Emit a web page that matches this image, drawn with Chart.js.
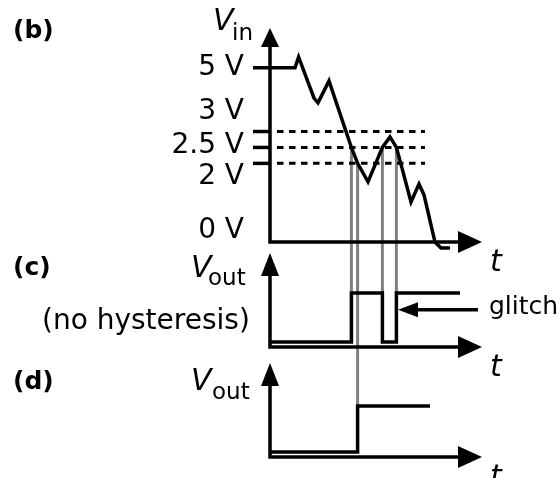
<!DOCTYPE html>
<html lang="en">
<head>
<meta charset="UTF-8">
<title>Comparator output with and without hysteresis</title>
<script src="https://cdn.jsdelivr.net/npm/chart.js"></script>
<style>
  body { margin: 0; background: #fff; }
</style>
</head>
<body>
<canvas id="scopeChart" width="560" height="478"></canvas>
<script>
// Input voltage Vin (volts) against time (arbitrary units, t = 0 on the vertical axis)
const vinTimes = [-0.85, 1.25, 1.43, 2.2, 2.4, 2.95, 4.07, 4.38, 4.9, 5.62, 6.0, 6.32, 6.6, 7.05, 7.45, 7.7, 8.25, 8.55, 9.0];
const vinVolts = [5.0, 5.0, 5.34, 4.05, 3.9, 4.59, 2.5, 2.0, 1.42, 2.5, 2.83, 2.5, 1.85, 0.79, 1.35, 1.01, -0.47, -0.66, -0.66];

// Threshold levels drawn dashed across the Vin plot
const thresholdVolts = [3, 2.5, 2];
const thresholdSpan = [0.35, 7.75];

// Labels on the Vin axis
const vinTickValues = [5, 3, 2.5, 2, 0];
const vinTickLabels = ['5 V', '3 V', '2.5 V', '2 V', '0 V'];

// (c) comparator without hysteresis: flips at every 2.5 V crossing
const plainTimes = [0, 4.07, 5.62, 6.32, 9.5];
const plainLevels = [0, 5, 0, 5, 5];

// (d) comparator with hysteresis: flips once, below 2 V
const hystTimes = [0, 4.38, 8.0];
const hystLevels = [0, 5, 5];

// Switching instants, traced from the Vin crossing down to the output edge
const switchTimes = [4.07, 4.38, 5.62, 6.32];
const switchVolts = [2.5, 2, 2.5, 2.5];
const switchPanel = ['yC', 'yD', 'yC', 'yC'];

const HIGH = 5;
const AXIS_END = 10.6;
const FONT = '"DejaVu Sans", sans-serif';
const LW = 3.5;

function xy(ts, vs) {
    return ts.map((t, i) => ({ x: t, y: vs[i] }));
}

function hiddenAxis(extra) {
    return Object.assign({
        type: 'linear',
        position: 'left',
        stack: 'panels',
        ticks: { display: false },
        grid: { display: false },
        border: { display: false },
        afterFit: s => { s.width = 0; }
    }, extra);
}

function arrowHead(ctx, tipX, tipY, dir, len, half) {
    ctx.beginPath();
    if (dir === 'up') {
        ctx.moveTo(tipX, tipY);
        ctx.lineTo(tipX - half, tipY + len);
        ctx.lineTo(tipX + half, tipY + len);
    } else if (dir === 'right') {
        ctx.moveTo(tipX, tipY);
        ctx.lineTo(tipX - len, tipY - half);
        ctx.lineTo(tipX - len, tipY + half);
    } else {
        ctx.moveTo(tipX, tipY);
        ctx.lineTo(tipX + len, tipY - half);
        ctx.lineTo(tipX + len, tipY + half);
    }
    ctx.closePath();
    ctx.fill();
}

function vLabel(ctx, x, baseV, sub, xSub, baseSub) {
    ctx.font = 'oblique 30px ' + FONT;
    ctx.fillText('V', x, baseV);
    ctx.font = '23px ' + FONT;
    ctx.fillText(sub, xSub, baseSub);
}

const sketch = {
    id: 'sketch',
    beforeDatasetsDraw(chart) {
        const ctx = chart.ctx;
        const x = chart.scales.x, yB = chart.scales.yB;
        ctx.save();
        ctx.strokeStyle = '#808080';
        ctx.lineWidth = 3;
        switchTimes.forEach((t, i) => {
            const px = x.getPixelForValue(t);
            const out = chart.scales[switchPanel[i]];
            ctx.beginPath();
            ctx.moveTo(px, yB.getPixelForValue(switchVolts[i]));
            ctx.lineTo(px, out.getPixelForValue(HIGH));
            ctx.stroke();
        });
        ctx.restore();
    },
    afterDatasetsDraw(chart) {
        const ctx = chart.ctx;
        const x = chart.scales.x, yB = chart.scales.yB, yC = chart.scales.yC;
        const ax = x.getPixelForValue(0);
        const tipX = x.getPixelForValue(AXIS_END);
        ctx.save();
        ctx.strokeStyle = '#000';
        ctx.fillStyle = '#000';
        ctx.lineWidth = LW;
        ctx.lineJoin = 'miter';

        // axes of the three panels
        ['yB', 'yC', 'yD'].forEach(id => {
            const s = chart.scales[id];
            const base = s.bottom - 1;
            ctx.beginPath();
            ctx.moveTo(ax, s.top + 12);
            ctx.lineTo(ax, base);
            ctx.lineTo(tipX - 12, base);
            ctx.stroke();
            arrowHead(ctx, ax, s.top, 'up', id === 'yB' ? 19 : 23, 9);
            arrowHead(ctx, tipX, base, 'right', 24, 11);
            ctx.font = 'oblique 30px ' + FONT;
            ctx.textAlign = 'left';
            ctx.fillText('t', 490, base + 29);
        });

        // short ticks for the thresholds
        thresholdVolts.forEach(v => {
            const py = yB.getPixelForValue(v);
            ctx.beginPath();
            ctx.moveTo(x.getPixelForValue(-0.85), py);
            ctx.lineTo(ax, py);
            ctx.stroke();
        });

        // Vin axis labels, spread apart where the levels crowd together
        const nudge = [-3, -23, -4, 11, 1];
        ctx.font = '28px ' + FONT;
        ctx.textAlign = 'right';
        vinTickValues.forEach((v, i) => {
            ctx.fillText(vinTickLabels[i], 244, yB.getPixelForValue(v) + nudge[i] + 10);
        });

        // glitch pointer
        const gy = yC.getPixelForValue(3.3);
        ctx.beginPath();
        ctx.moveTo(478, gy);
        ctx.lineTo(412, gy);
        ctx.stroke();
        arrowHead(ctx, x.getPixelForValue(6.4), gy, 'left', 20, 7.5);
        ctx.font = '25px ' + FONT;
        ctx.textAlign = 'left';
        ctx.fillText('glitch', 489, 314);

        // panel letters and axis names
        ctx.font = 'bold 25px ' + FONT;
        ctx.textBaseline = 'middle';
        ctx.fillText('(b)', 13, 31);
        ctx.fillText('(c)', 13, 268);
        ctx.fillText('(d)', 13, 382);
        ctx.font = '28px ' + FONT;
        ctx.fillText('(no hysteresis)', 42, 322);
        ctx.textBaseline = 'alphabetic';
        vLabel(ctx, 213, 30, 'in', 232, 40);
        vLabel(ctx, 191, 277, 'out', 208, 285);
        vLabel(ctx, 191, 390, 'out', 212, 399);
        ctx.restore();
    }
};

const lineStyle = {
    borderColor: '#000',
    borderWidth: LW,
    pointRadius: 0,
    tension: 0,
    borderJoinStyle: 'miter',
    fill: false
};

const datasets = [
    Object.assign({ label: 'Vin', data: xy(vinTimes, vinVolts), yAxisID: 'yB', clip: false }, lineStyle),
    ...thresholdVolts.map(v => Object.assign({}, lineStyle, {
        label: v + ' V',
        data: thresholdSpan.map(t => ({ x: t, y: v })),
        yAxisID: 'yB',
        borderWidth: 3,
        borderDash: [6.5, 5.5]
    })),
    Object.assign({ label: 'Vout (no hysteresis)', data: xy(plainTimes, plainLevels), yAxisID: 'yC', stepped: true }, lineStyle),
    Object.assign({ label: 'Vout (hysteresis)', data: xy(hystTimes, hystLevels), yAxisID: 'yD', stepped: true }, lineStyle)
];

new Chart(document.getElementById('scopeChart'), {
    type: 'line',
    data: { datasets: datasets },
    options: {
        responsive: false,
        animation: false,
        events: [],
        layout: { padding: { left: 250, right: 60, top: 28, bottom: 20 } },
        plugins: { legend: { display: false }, tooltip: { enabled: false } },
        scales: {
            x: { type: 'linear', min: -1, max: 11.5, display: false },
            yB: hiddenAxis({ weight: 5, stackWeight: 215, min: -0.5, max: 6.25 }),
            gap1: hiddenAxis({ weight: 4, stackWeight: 10, min: 0, max: 1 }),
            yC: hiddenAxis({ weight: 3, stackWeight: 95, min: -0.612, max: 9.08 }),
            gap2: hiddenAxis({ weight: 2, stackWeight: 15, min: 0, max: 1 }),
            yD: hiddenAxis({ weight: 1, stackWeight: 95, min: -0.652, max: 9.67 })
        }
    },
    plugins: [sketch]
});
</script>
</body>
</html>
